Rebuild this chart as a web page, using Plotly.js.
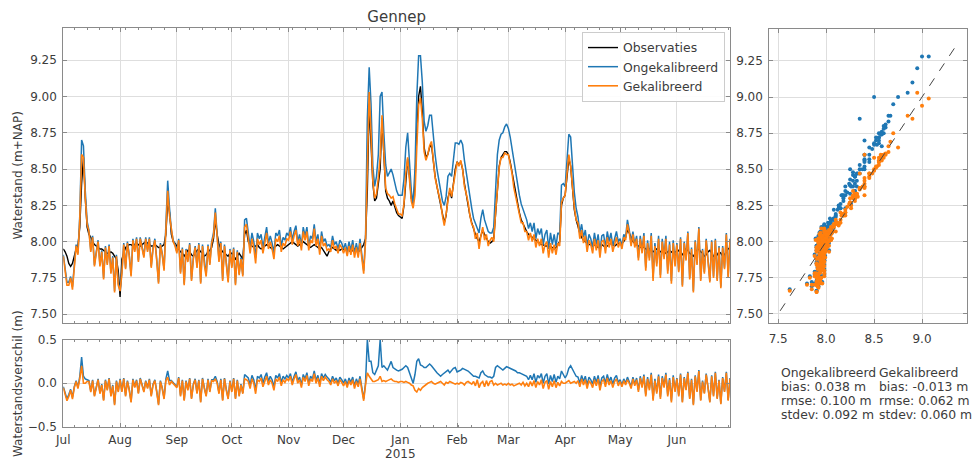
<!DOCTYPE html>
<html>
<head>
<meta charset="utf-8">
<script src="https://cdn.plot.ly/plotly-3.0.1.min.js"></script>
<style>html,body{margin:0;padding:0;background:#fff}#chart{width:975px;height:463px}</style>
</head>
<body>
<div id="chart"></div>
<script>
// ---------------- DATA ----------------
const startYear = 2014, startMonth = 6; // 1 July 2014, daily values
const monthTickLabels = ['Jul','Aug','Sep','Oct','Nov','Dec','Jan','Feb','Mar','Apr','May','Jun'];
const yearLabel = '2015';
const yearLabelMonthIndex = 6;
const levelTicks = [7.50, 7.75, 8.00, 8.25, 8.50, 8.75, 9.00, 9.25];
const diffTicks = [-0.5, 0.0, 0.5];
const scatterXTicks = [7.5, 8.0, 8.5, 9.0];
const seriesNames = ['Observaties', 'Ongekalibreerd', 'Gekalibreerd'];
const oneToOne = [7.52, 9.36];
const statNames = ['Ongekalibreerd', 'Gekalibreerd'];
const statBias = ['0.038', '-0.013'];
const statRmse = ['0.100', '0.062'];
const statStdev = ['0.092', '0.060'];

// Observed water level (m+NAP), daily
const obs = [
 // Jul
 7.95,7.93,7.90,7.85,7.83,7.85,7.90,7.95,7.97,8.10, 8.40,8.58,8.30,8.10,8.05,8.03,8.00,7.98,7.97,7.96,
 7.95,7.95,7.94,7.93,7.92,7.92,7.93,7.92,7.90,7.88, 7.80,
 // Aug
 7.62,7.88,7.93,7.96,7.97,7.98,7.98,7.97,7.98,7.99, 7.98,7.97,7.98,7.99,8.00,7.99,7.98,7.97,7.97,7.98,
 7.97,7.96,7.96,7.97,7.98,8.05,8.28,8.20,8.05,8.00, 7.99,
 // Sep
 7.97,7.95,7.93,7.92,7.90,7.92,7.94,7.93,7.91,7.90, 7.92,7.94,7.95,7.93,7.92,7.90,7.91,7.93,7.94,7.96,
 8.02,8.15,8.05,7.98,7.95,7.93,7.92,7.91,7.90,7.92,
 // Oct
 7.92,7.90,7.88,7.90,7.92,7.90,7.88,8.05,8.08,8.00, 7.98,7.97,7.96,7.97,7.98,7.96,7.95,7.96,7.97,7.98,
 7.97,7.96,7.95,7.96,7.97,7.98,7.97,7.96,7.95,7.96, 7.97,
 // Nov
 7.98,7.99,8.00,7.99,7.98,7.97,7.98,7.99,8.00,7.99, 7.98,7.97,7.96,7.97,7.98,7.97,7.96,7.95,7.96,7.94,
 7.92,7.90,7.93,7.95,7.96,7.95,7.94,7.95,7.94,7.95,
 // Dec
 7.95,7.94,7.95,7.94,7.93,7.94,7.95,7.94,7.93,7.94, 7.96,7.98,8.02,8.35,8.95,8.70,8.40,8.28,8.30,8.40,
 8.50,8.85,8.55,8.35,8.30,8.28,8.25,8.28,8.24,8.20, 8.18,
 // Jan
 8.17,8.16,8.25,8.45,8.57,8.45,8.30,8.26,8.40,8.75, 9.00,9.07,8.90,8.65,8.58,8.60,8.65,8.67,8.55,8.45,
 8.38,8.32,8.25,8.18,8.13,8.18,8.30,8.35,8.30,8.40, 8.50,
 // Feb
 8.55,8.53,8.55,8.50,8.40,8.32,8.25,8.18,8.13,8.08, 8.05,8.02,8.00,8.04,8.08,8.05,8.02,8.00,7.99,8.00,
 8.02,8.20,8.40,8.52,8.58,8.60,8.62,8.62,
 // Mar
 8.60,8.55,8.48,8.40,8.33,8.26,8.20,8.15,8.12,8.10, 8.07,8.05,8.04,8.03,8.02,8.01,8.00,7.99,7.98,7.98,
 7.97,7.97,7.96,7.97,7.96,7.95,7.96,7.98,8.00,8.25, 8.30,
 // Apr
 8.32,8.45,8.57,8.52,8.35,8.22,8.15,8.10,8.06,8.03, 8.01,8.00,7.99,7.98,7.98,7.97,7.98,7.97,7.96,7.97,
 7.98,7.97,7.96,7.97,7.98,7.99,7.98,7.97,7.98,7.99,
 // May
 7.98,7.99,8.00,8.03,8.08,8.06,8.03,8.00,7.99,7.98, 7.97,7.96,7.97,7.96,7.95,7.94,7.95,7.94,7.93,7.94,
 7.95,7.94,7.93,7.94,7.93,7.92,7.93,7.94,7.93,7.92, 7.93,
 // Jun
 7.93,7.94,7.92,7.91,7.93,7.95,7.94,7.92,7.91,7.90, 7.92,7.94,7.95,7.93,7.92,7.90,7.91,7.93,7.94,7.92,
 7.90,7.89,7.91,7.93,7.92,7.90,7.91,7.93,7.95,7.96
];

// Difference uncalibrated model - observations (m), daily
const diffUncal = [
 // Jul
 -0.04,-0.10,-0.18,-0.13,-0.07,-0.16,-0.04,0.03,-0.05,0.08, 0.30,0.08,0.05,0.04,0.03,-0.09,0.04,-0.14,-0.04,0.05,
 -0.11,-0.01,-0.19,0.04,-0.07,0.06,-0.14,-0.02,-0.24,0.03, -0.09,
 // Aug
 0.05,-0.09,0.06,-0.14,0.03,-0.07,-0.21,0.05,-0.04,0.04, -0.11,0.06,-0.02,-0.09,0.03,-0.05,0.05,-0.14,-0.01,0.04,
 -0.09,-0.24,0.03,-0.05,-0.17,0.05,0.14,0.03,0.03,0.01, -0.01,
 // Sep
 -0.04,0.07,-0.14,0.04,-0.19,0.03,-0.07,0.06,-0.17,-0.01, 0.05,-0.11,0.04,-0.21,0.06,-0.05,-0.14,0.05,-0.09,0.04,
 0.04,0.08,0.02,-0.11,0.05,-0.19,0.06,-0.07,-0.17,0.03,
 // Oct
 -0.09,0.06,-0.17,0.04,-0.14,-0.01,-0.11,0.10,0.08,0.06, -0.02,0.09,0.04,-0.08,0.08,0.06,0.10,0.00,0.07,0.12,
 0.02,0.08,0.04,-0.04,0.09,0.06,0.11,0.01,0.08,0.05, 0.09,
 // Nov
 0.06,0.11,0.01,0.08,0.13,0.03,0.07,-0.02,0.10,0.05, 0.12,0.00,0.08,0.05,0.14,0.03,0.09,-0.01,0.11,0.06,
 0.10,0.07,0.05,0.01,0.08,0.03,0.06,0.00,0.07,0.04,
 // Dec
 0.00,0.05,-0.02,0.06,0.01,0.07,-0.03,0.05,-0.01,0.08, -0.05,-0.18,0.00,0.50,0.25,0.25,0.12,0.10,0.15,0.20,
 0.50,0.18,0.20,0.18,0.15,0.20,0.25,0.18,0.16,0.15, 0.14,
 // Jan
 0.15,0.16,0.18,0.20,0.18,0.12,0.05,0.00,0.10,0.25, 0.28,0.21,0.20,0.18,0.18,0.20,0.22,0.20,0.17,0.15,
 0.12,0.10,0.08,0.10,0.12,0.13,0.15,0.12,0.15,0.17, 0.18,
 // Feb
 0.13,0.14,0.15,0.17,0.16,0.15,0.14,0.12,0.10,0.08, 0.08,0.07,0.06,0.12,0.14,0.10,0.08,0.07,0.07,0.06,
 0.08,0.18,0.20,0.18,0.16,0.15,0.17,0.19,
 // Mar
 0.18,0.17,0.16,0.15,0.14,0.12,0.12,0.11,0.10,0.09, 0.08,0.04,0.09,0.04,0.11,0.01,0.09,0.06,0.11,0.00,
 0.08,0.11,-0.01,0.09,0.02,0.10,0.01,0.08,0.05,0.14, 0.10,
 // Apr
 0.06,0.10,0.17,0.20,0.15,0.12,0.08,0.07,0.00,0.09, 0.02,0.08,-0.02,0.07,0.04,-0.01,0.08,0.01,0.09,-0.04,
 0.06,0.08,0.00,0.10,0.02,0.07,-0.01,0.06,0.09,0.01,
 // May
 0.04,-0.02,0.05,0.00,0.07,0.02,-0.04,0.07,-0.01,0.06, -0.08,0.08,-0.03,0.10,-0.13,0.07,-0.06,0.12,-0.18,0.05,
 -0.10,0.10,-0.16,0.08,-0.03,0.12,-0.13,0.06,-0.20,0.09, -0.08,
 // Jun
 0.06,-0.14,0.11,-0.21,0.07,-0.07,0.13,-0.17,0.05,-0.24, 0.09,-0.09,0.15,-0.19,0.03,-0.11,0.11,-0.04,-0.21,0.09,
 -0.14,0.13,-0.17,0.04,-0.23,0.07,-0.09,0.13,-0.19,0.06
];

// Difference calibrated model - observations (m), daily
const diffCal = [
 // Jul
 -0.05,-0.12,-0.20,-0.15,-0.08,-0.18,-0.05,0.02,-0.06,0.05, 0.20,0.00,0.00,0.02,0.02,-0.10,0.03,-0.15,-0.05,0.04,
 -0.12,-0.02,-0.20,0.03,-0.08,0.05,-0.15,-0.03,-0.25,0.02, -0.10,
 // Aug
 0.04,-0.10,0.05,-0.15,0.02,-0.08,-0.22,0.04,-0.05,0.03, -0.12,0.05,-0.03,-0.10,0.02,-0.06,0.04,-0.15,-0.02,0.03,
 -0.10,-0.25,0.02,-0.06,-0.18,0.03,0.07,-0.02,0.02,0.00, -0.02,
 // Sep
 -0.05,0.06,-0.15,0.03,-0.20,0.02,-0.08,0.05,-0.18,-0.02, 0.04,-0.12,0.03,-0.22,0.05,-0.06,-0.15,0.04,-0.10,0.03,
 0.02,0.05,0.00,-0.12,0.04,-0.20,0.05,-0.08,-0.18,0.02,
 // Oct
 -0.10,0.05,-0.18,0.03,-0.15,-0.02,-0.12,0.05,0.04,0.02, -0.06,0.05,0.00,-0.12,0.04,0.02,0.06,-0.04,0.03,0.08,
 -0.02,0.04,0.00,-0.08,0.05,0.02,0.07,-0.03,0.04,0.01, 0.05,
 // Nov
 0.03,0.08,-0.02,0.05,0.10,0.00,0.04,-0.05,0.07,0.02, 0.09,-0.03,0.05,0.02,0.11,0.00,0.06,-0.04,0.08,0.03,
 0.07,0.04,0.02,-0.02,0.05,0.00,0.03,-0.03,0.04,0.01,
 // Dec
 -0.03,0.02,-0.05,0.03,-0.02,0.04,-0.06,0.02,-0.04,0.05, -0.08,-0.20,-0.02,0.12,0.08,0.05,0.02,0.02,0.03,0.04,
 0.08,0.02,0.03,0.02,0.03,0.04,0.05,0.03,0.02,0.02, 0.01,
 // Jan
 0.02,0.02,0.01,0.02,0.01,0.00,-0.02,-0.03,-0.08,-0.10, -0.06,-0.08,-0.05,-0.03,-0.02,0.00,0.01,0.02,0.00,-0.01,
 0.00,0.01,0.02,0.00,-0.02,0.01,0.00,0.02,0.01,0.00, -0.01,
 // Feb
 0.00,-0.01,0.01,0.00,-0.02,0.01,0.02,0.00,-0.01,0.02, -0.03,0.04,-0.05,0.00,0.02,-0.04,0.03,-0.03,0.02,0.03,
 -0.02,0.00,-0.02,-0.01,0.00,-0.02,-0.01,-0.02,
 // Mar
 0.00,-0.02,-0.01,-0.03,-0.02,-0.01,0.00,-0.02,0.01,-0.03, 0.00,-0.04,0.02,-0.03,0.03,-0.05,0.02,-0.02,0.04,-0.06,
 0.01,0.03,-0.07,0.02,-0.04,0.03,-0.05,0.01,-0.03,0.02, 0.00,
 // Apr
 0.00,0.02,0.03,0.00,0.01,0.02,0.00,0.03,-0.04,0.05, -0.02,0.04,-0.06,0.03,0.00,-0.05,0.04,-0.03,0.05,-0.08,
 0.02,0.04,-0.04,0.06,-0.02,0.03,-0.05,0.02,0.05,-0.03,
 // May
 0.02,-0.04,0.03,-0.02,0.04,0.00,-0.06,0.05,-0.03,0.04, -0.10,0.06,-0.05,0.08,-0.15,0.05,-0.08,0.10,-0.20,0.03,
 -0.12,0.08,-0.18,0.06,-0.05,0.10,-0.15,0.04,-0.22,0.07, -0.10,
 // Jun
 0.05,-0.15,0.10,-0.22,0.06,-0.08,0.12,-0.18,0.04,-0.25, 0.08,-0.10,0.14,-0.20,0.02,-0.12,0.10,-0.05,-0.22,0.08,
 -0.15,0.12,-0.18,0.03,-0.24,0.06,-0.10,0.12,-0.20,0.05
];

// ---------------- BUILD ----------------
if (obs.length !== diffUncal.length || obs.length !== diffCal.length) {
  throw new Error('length mismatch: obs ' + obs.length + ' uncal ' + diffUncal.length + ' cal ' + diffCal.length);
}
const round3 = v => Math.round(v * 1000) / 1000;
const dates = obs.map((_, i) => new Date(Date.UTC(startYear, startMonth, 1 + i)).toISOString().slice(0, 10));
const uncal = obs.map((v, i) => round3(v + diffUncal[i]));
const cal = obs.map((v, i) => round3(v + diffCal[i]));
const monthTickVals = monthTickLabels.map((_, i) => new Date(Date.UTC(startYear, startMonth + i, 1)).toISOString().slice(0, 10));
const weekTickVals = dates.filter((_, i) => i % 7 === 6);

const C_OBS = '#000000', C_UN = '#1f77b4', C_CAL = '#ff7f0e';
const FONT = 'DejaVu Sans, Arial, sans-serif';
const TXT = '#3c3c3c';
const W = 975, H = 463;
const px = v => v / W, py = v => 1 - v / H;

const frame = {
  showline: true, linecolor: '#8a8a8a', linewidth: 1, mirror: 'ticks',
  ticks: 'inside', ticklen: 4, tickcolor: '#8a8a8a', tickwidth: 1,
  showgrid: true, gridcolor: '#dedede', gridwidth: 1, zeroline: false,
  tickfont: {family: FONT, size: 12, color: TXT}
};

const traces = [
  {x: dates, y: obs, xaxis: 'x', yaxis: 'y', type: 'scatter', mode: 'lines', name: seriesNames[0],
   line: {color: C_OBS, width: 1.4}},
  {x: dates, y: uncal, xaxis: 'x', yaxis: 'y', type: 'scatter', mode: 'lines', name: seriesNames[1],
   line: {color: C_UN, width: 1.5}},
  {x: dates, y: cal, xaxis: 'x', yaxis: 'y', type: 'scatter', mode: 'lines', name: seriesNames[2],
   line: {color: C_CAL, width: 1.6}},
  {x: dates, y: diffUncal, xaxis: 'x2', yaxis: 'y2', type: 'scatter', mode: 'lines', showlegend: false,
   line: {color: C_UN, width: 1.5}},
  {x: dates, y: diffCal, xaxis: 'x2', yaxis: 'y2', type: 'scatter', mode: 'lines', showlegend: false,
   line: {color: C_CAL, width: 1.6}},
  {x: obs, y: uncal, xaxis: 'x3', yaxis: 'y3', type: 'scatter', mode: 'markers', showlegend: false,
   marker: {color: C_UN, size: 4}},
  {x: obs, y: cal, xaxis: 'x3', yaxis: 'y3', type: 'scatter', mode: 'markers', showlegend: false,
   marker: {color: C_CAL, size: 4}},
  {x: oneToOne, y: oneToOne, xaxis: 'x3', yaxis: 'y3', type: 'scatter', mode: 'lines', showlegend: false,
   line: {color: '#444444', width: 1, dash: 'dash'}}
];

const xDom = [px(63.3), px(730)];
const dateRange = [dates[0], dates[dates.length - 1]];
const levelRange = [7.438, 9.469];

// stats text block, one annotation per line
const statLines = (i) => [statNames[i], 'bias: ' + statBias[i] + ' m', 'rmse: ' + statRmse[i] + ' m', 'stdev: ' + statStdev[i] + ' m'];
const statX = [778.5, 876.5];
const statY0 = 372, statDy = 14.2;
const statAnnotations = [];
statNames.forEach((_, i) => {
  statLines(i).forEach((line, j) => {
    statAnnotations.push({text: line, xref: 'paper', yref: 'paper', x: px(statX[i]), y: py(statY0 + j * statDy),
      xanchor: 'left', yanchor: 'middle', align: 'left', showarrow: false,
      font: {family: FONT, size: 12.4, color: TXT}});
  });
});

const layout = {
  width: W, height: H,
  margin: {l: 0, r: 0, t: 0, b: 0},
  paper_bgcolor: '#ffffff', plot_bgcolor: '#ffffff',
  font: {family: FONT, size: 12, color: TXT},
  title: {text: 'Gennep', x: px(396.6), xanchor: 'center', xref: 'paper', y: py(17), yanchor: 'middle', yref: 'paper',
          font: {family: FONT, size: 15, color: TXT}},
  showlegend: true,
  legend: {x: px(582), y: py(32), xanchor: 'left', yanchor: 'top', bgcolor: 'rgba(255,255,255,0.9)',
           bordercolor: '#cccccc', borderwidth: 1, font: {family: FONT, size: 12.4, color: TXT},
           tracegroupgap: 0, itemwidth: 30},
  xaxis: Object.assign({}, frame, {domain: xDom, anchor: 'y', type: 'date', range: dateRange,
          tickmode: 'array', tickvals: monthTickVals, showticklabels: false,
          minor: {tickmode: 'array', tickvals: weekTickVals, ticks: 'inside', ticklen: 2, tickcolor: '#8a8a8a', showgrid: false}}),
  yaxis: Object.assign({}, frame, {domain: [py(323.3), py(28.3)], anchor: 'x', range: levelRange,
          tickmode: 'array', tickvals: levelTicks, tickformat: '.2f', ticklabelstandoff: 3}),
  xaxis2: Object.assign({}, frame, {domain: xDom, anchor: 'y2', type: 'date', range: dateRange,
          tickmode: 'array', tickvals: monthTickVals, ticktext: monthTickLabels, ticklabelstandoff: 2,
          minor: {tickmode: 'array', tickvals: weekTickVals, ticks: 'inside', ticklen: 2, tickcolor: '#8a8a8a', showgrid: false}}),
  yaxis2: Object.assign({}, frame, {domain: [py(427), py(339.5)], anchor: 'x2', range: [-0.5, 0.5],
          tickmode: 'array', tickvals: diffTicks, tickformat: '.1f', ticklabelstandoff: 3}),
  xaxis3: Object.assign({}, frame, {domain: [px(769.3), px(966.7)], anchor: 'y3', range: [7.407, 9.466],
          tickmode: 'array', tickvals: scatterXTicks, tickformat: '.1f', ticklabelstandoff: 5}),
  yaxis3: Object.assign({}, frame, {domain: [py(322.7), py(29.3)], anchor: 'x3', range: levelRange,
          tickmode: 'array', tickvals: levelTicks, tickformat: '.2f', ticklabelstandoff: 3}),
  annotations: [
    {text: 'Waterstand (m+NAP)', xref: 'paper', yref: 'paper', x: px(18), y: py(175.5), textangle: -90,
     showarrow: false, xanchor: 'center', yanchor: 'middle', font: {family: FONT, size: 12, color: TXT}},
    {text: 'Waterstandsverschil (m)', xref: 'paper', yref: 'paper', x: px(18), y: py(384), textangle: -90,
     showarrow: false, xanchor: 'center', yanchor: 'middle', font: {family: FONT, size: 12, color: TXT}},
    {text: yearLabel, xref: 'x2', yref: 'paper', x: monthTickVals[yearLabelMonthIndex], y: py(453.5),
     showarrow: false, xanchor: 'center', yanchor: 'middle', font: {family: FONT, size: 12, color: TXT}}
  ].concat(statAnnotations)
};

Plotly.newPlot('chart', traces, layout, {staticPlot: true, displayModeBar: false});
</script>
</body>
</html>
